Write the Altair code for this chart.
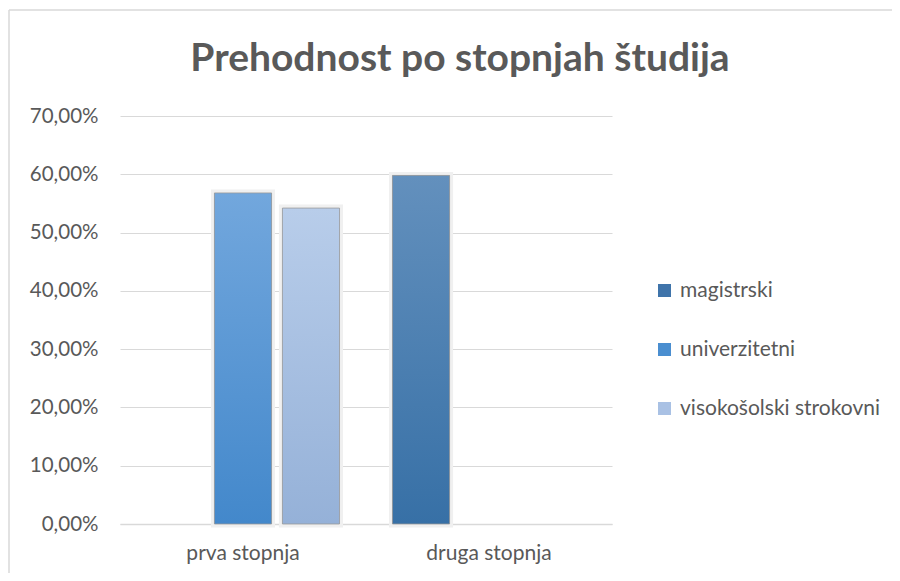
import altair as alt
import pandas as pd

categories = ["prva stopnja", "prva stopnja", "druga stopnja"]
series = ["univerzitetni", "visokošolski strokovni", "magistrski"]
values = [0.568, 0.542, 0.598]

series_order = ["magistrski", "univerzitetni", "visokošolski strokovni"]
cat_order = ["prva stopnja", "druga stopnja"]
legend_colors = ["#3f74aa", "#4a8ed0", "#a9c1e4"]
grad_top = {"magistrski": "#6390bd", "univerzitetni": "#72a7dd", "visokošolski strokovni": "#b8cdea"}
grad_bot = {"magistrski": "#3770a6", "univerzitetni": "#4388cb", "visokošolski strokovni": "#95b1d8"}

df = pd.DataFrame({"stopnja": categories, "vrsta": series, "vrednost": values})

FONT = "Lato"
TXT = "#595959"

x_enc = alt.X("stopnja:N", sort=cat_order, title=None,
              scale=alt.Scale(domain=cat_order, paddingInner=0.171, paddingOuter=0.0855),
              axis=alt.Axis(labelAngle=0, labelFontSize=21, labelColor=TXT, labelFont=FONT,
                            labelPadding=18, ticks=False, domainColor="#d9d9d9", domainWidth=1.5))
xo_enc = alt.XOffset("vrsta:N", sort=series_order,
                     scale=alt.Scale(domain=series_order, paddingInner=0.16, paddingOuter=0.08))
y_enc = alt.Y("vrednost:Q", title=None,
              scale=alt.Scale(domain=[0, 0.7]),
              axis=alt.Axis(values=[0, 0.1, 0.2, 0.3, 0.4, 0.5, 0.6, 0.7],
                            labelExpr="replace(format(datum.value, '.2%'), '.', ',')",
                            labelFontSize=20.5, labelColor=TXT, labelFont=FONT, labelPadding=22,
                            ticks=False, domain=False, gridColor="#d9d9d9", gridWidth=1))

base = alt.Chart(df)
one = alt.Data(values=[{"a": 1}])

frame_top = alt.Chart(one).mark_rule(stroke="#d9d9d9", strokeWidth=1.5).encode(
    x=alt.value(-111), x2=alt.value(780), y=alt.value(-106))
frame_left = alt.Chart(one).mark_rule(stroke="#d9d9d9", strokeWidth=1.5).encode(
    x=alt.value(-111), y=alt.value(-106), y2=alt.value(470))

halo = base.mark_bar(fill="#f0f0f0", stroke="#f0f0f0", strokeWidth=7).encode(
    x=x_enc, xOffset=xo_enc, y=y_enc)

legend_layer = base.mark_bar(strokeWidth=0).encode(
    x=x_enc, xOffset=xo_enc, y=y_enc,
    color=alt.Color("vrsta:N", sort=series_order,
                    scale=alt.Scale(domain=series_order, range=legend_colors),
                    legend=alt.Legend(title=None, orient="none", legendX=534, legendY=164,
                                      symbolType="square", symbolSize=169, symbolStrokeWidth=0,
                                      labelFontSize=21, labelColor=TXT, labelFont=FONT,
                                      labelLimit=400, rowPadding=37, labelOffset=5)))

grad_layers = []
for s in series_order:
    grad_layers.append(
        base.transform_filter(alt.datum.vrsta == s).mark_bar(
            color=alt.Gradient(gradient="linear", x1=0, y1=0, x2=0, y2=1,
                               stops=[alt.GradientStop(color=grad_top[s], offset=0),
                                      alt.GradientStop(color=grad_bot[s], offset=1)]),
            stroke="#9a9a9a", strokeWidth=1, strokeOpacity=0.8
        ).encode(x=x_enc, xOffset=xo_enc, y=y_enc)
    )

chart = alt.layer(frame_top, frame_left, halo, legend_layer, *grad_layers).properties(
    width=492, height=408,
    autosize=alt.AutoSizeParams(type="none"),
    padding={"left": 112, "top": 108, "right": 280, "bottom": 49},
    title=alt.TitleParams("Prehodnost po stopnjah študija", font=FONT, fontSize=39,
                          fontWeight="bold", color=TXT, anchor="middle", dx=94, offset=-70),
).configure(background="white").configure_view(stroke=None)

chart.save("out.html", embed_options={"renderer": "svg", "actions": False})
